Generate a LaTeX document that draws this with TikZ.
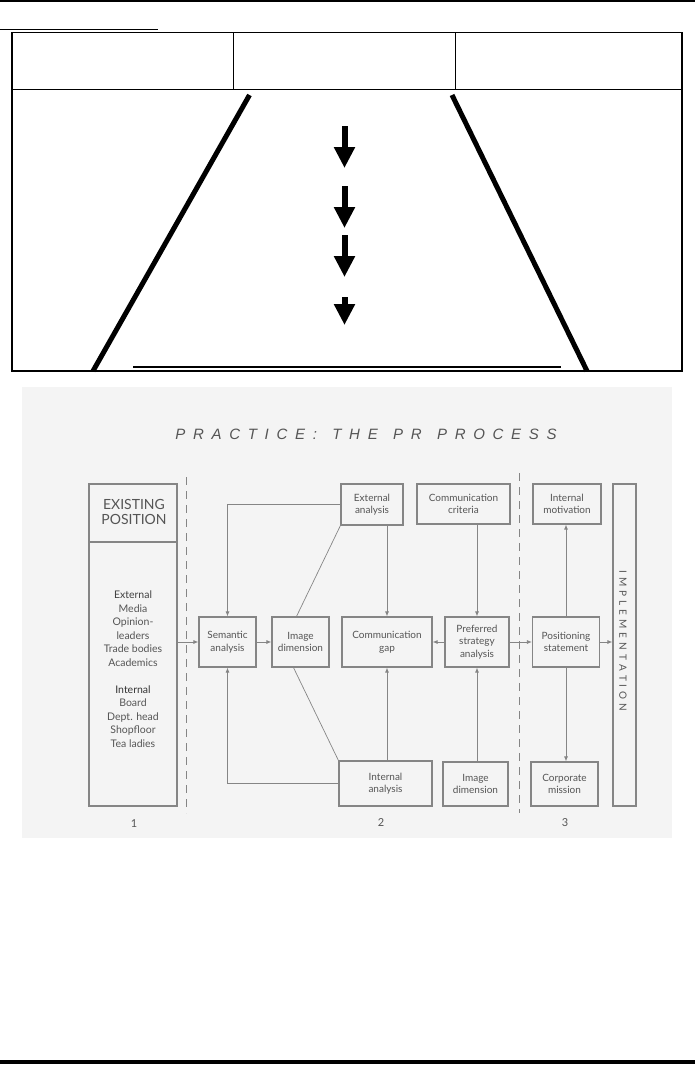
\documentclass[tikz,border=0pt]{standalone}
\usepackage{fontspec}
\setmainfont{Lato}
\newfontfamily\titlefont{Liberation Sans}
\usetikzlibrary{arrows.meta}
\definecolor{bgc}{HTML}{F4F4F4}
\definecolor{lnc}{HTML}{858585}
\definecolor{txc}{HTML}{555555}
\newcommand\ls{\kern 7.7pt}
\newcommand\lsi{\kern 4pt}
\begin{document}
\begin{tikzpicture}[x=1pt,y=-1pt,
  box/.style={draw=lnc, line width=1.2pt, fill=bgc, inner sep=1pt, align=center,
    text=txc, font=\fontsize{10}{12.5}\selectfont},
  arr/.style={draw=lnc, line width=0.8pt, -{Latex[length=5pt,width=4pt]}},
  plain/.style={draw=lnc, line width=0.7pt},
  dline/.style={draw=lnc, line width=0.9pt, dash pattern=on 8pt off 6pt},
  bigarr/.style={line width=6pt, -{Triangle[width=20pt,length=21pt]}},
  lbl/.style={text=txc, font=\fontsize{11}{13}\selectfont}]
\useasboundingbox (0,0) rectangle (695,1066);
\fill[white] (0,0) rectangle (695,1066);
% ---------- top part ----------
\draw[line width=2.5pt] (0,1.2) -- (695,1.2);
\draw[line width=1pt] (0,29.5) -- (158,29.5);
\draw[line width=1.3pt] (12,32.5) rectangle (682,371);
\draw[line width=1.5pt] (12,89.5) -- (682,89.5);
\draw[line width=1pt] (233.5,32.5) -- (233.5,89.5);
\draw[line width=1pt] (455,32.5) -- (455,89.5);
\draw[line width=5pt] (249.5,95) -- (93,371);
\draw[line width=5pt] (452,95) -- (587,371);
\draw[line width=2pt] (133,367) -- (561,367);
\draw[bigarr] (344.5,126) -- (344.5,168);
\draw[bigarr] (344.5,186) -- (344.5,228);
\draw[bigarr] (344.5,235) -- (344.5,277);
\draw[bigarr] (344.5,297) -- (344.5,325);
% ---------- bottom part ----------
\fill[bgc] (22,387) rectangle (672,838);
\draw[line width=3.5pt] (0,1062) -- (695,1062);
\node[text=txc, font=\titlefont\itshape\fontsize{15}{15}\selectfont] (title) at (366,434)
  {P\ls R\ls A\ls C\ls T\ls I\ls C\ls E\ls :\ls\ls T\ls H\ls E\ls\ls P\ls R\ls\ls P\ls R\ls O\ls C\ls E\ls S\ls S};
\draw[dline] (186,477) -- (186,813);
\draw[dline] (519,473) -- (519,813);
% boxes
\node[box, minimum width=88pt, minimum height=322pt] (exist) at (133,645) {};
\coordinate (dv) at (0,542);
\draw[draw=lnc, line width=1.2pt] (exist.west |- dv) -- (exist.east |- dv);
\node[text=txc, align=center, font=\fontsize{14}{15.5}\selectfont] (existhead) at (134,512) {EXISTING\\POSITION};
\node[text=txc, align=center, font=\fontsize{10.5}{13.5}\selectfont] (existlist) at (133,669)
  {\color{black!75}External\\Media\\Opinion-\\leaders\\Trade bodies\\Academics\\[13.5pt]\color{black!80}Internal\\Board\\Dept. head\\Shopfloor\\Tea ladies};
\node[box, minimum width=57pt, minimum height=50pt] (sem) at (227.5,642) {Semantic\\analysis};
\node[box, minimum width=57pt, minimum height=50pt] (imgd) at (300.5,642) {Image\\dimension};
\node[box, minimum width=62pt, minimum height=41pt] (extA) at (372,504.5) {External\\analysis};
\node[box, minimum width=93pt, minimum height=40pt] (crit) at (463.5,504) {Communication\\criteria};
\node[box, minimum width=90pt, minimum height=50pt] (gap) at (387,642) {Communication\\gap};
\node[box, minimum width=64pt, minimum height=50pt] (pref) at (477,642) {Preferred\\strategy\\analysis};
\node[box, minimum width=93pt, minimum height=45pt] (intA) at (385.5,783.5) {Internal\\analysis};
\node[box, minimum width=65pt, minimum height=44pt] (imgdb) at (475.5,784) {Image\\dimension};
\node[box, minimum width=67pt, minimum height=50pt] (pos) at (566,642) {Positioning\\statement};
\node[box, minimum width=68pt, minimum height=40pt] (intmot) at (567,504) {Internal\\motivation};
\node[box, minimum width=67pt, minimum height=44pt] (corp) at (564.5,784) {Corporate\\mission};
\node[box, minimum width=23pt, minimum height=322pt] (impl) at (624.5,645) {};
\node[text=txc, rotate=-90, font=\fontsize{10}{10}\selectfont] (impltext) at (623,641)
  {I\lsi M\lsi P\lsi L\lsi E\lsi M\lsi E\lsi N\lsi T\lsi A\lsi T\lsi I\lsi O\lsi N};
% connectors
\draw[arr] (exist.east |- sem.west) -- (sem.west);
\draw[arr] (sem.east) -- (imgd.west);
\draw[arr] (extA.west) -| (sem.north);
\draw[arr] (intA.west) -| (sem.south);
\draw[plain] (extA.south west) -- ([xshift=-4pt]imgd.north);
\draw[plain] ([xshift=-7pt]imgd.south) -- (intA.north west);
\draw[arr] (gap.north |- extA.south) -- (gap.north);
\draw[arr] (pref.north |- crit.south) -- (pref.north);
\draw[arr] (pref.west) -- (gap.east);
\draw[arr] (pref.east) -- (pos.west);
\draw[arr] (pos.north) -- (pos.north |- intmot.south);
\draw[arr] (pos.south) -- (pos.south |- corp.north);
\draw[arr] (pos.east) -- (impl.west |- pos.east);
\draw[arr] (gap.south |- intA.north) -- (gap.south);
\draw[arr] (pref.south |- imgdb.north) -- (pref.south);
% labels
\node[lbl] (n1) at (134,824) {1};
\node[lbl] (n2) at (381,823) {2};
\node[lbl] (n3) at (565,823) {3};
\end{tikzpicture}
\end{document}
